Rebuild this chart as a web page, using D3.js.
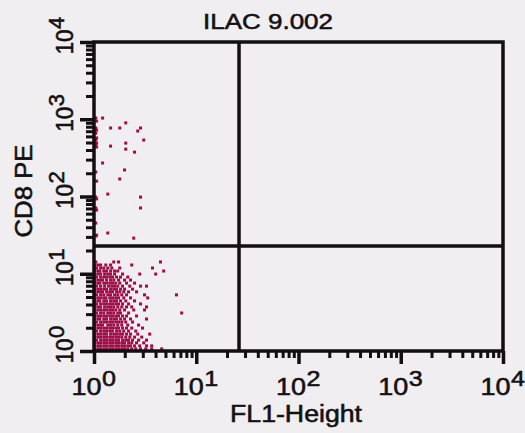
<!DOCTYPE html>
<html>
<head>
<meta charset="utf-8">
<script src="https://cdn.jsdelivr.net/npm/d3@7"></script>
<style>
  html, body { margin: 0; padding: 0; background: #f0eef0; }
  svg { display: block; }
  text { font-family: "Liberation Sans", Arial, Helvetica, sans-serif; fill: #141014;
         stroke: #141014; stroke-width: 0.55px; }
</style>
</head>
<body>
<svg id="chart" width="525" height="433"></svg>
<script>
// ---- chart text ----
const chartTitle = "ILAC 9.002";
const xTitle = "FL1-Height";
const yTitle = "CD8 PE";
const tickExponents = [0, 1, 2, 3, 4];

// ---- quadrant gate (linear fluorescence units) ----
const fl1Gate = 26.2;
const cd8Gate = 22.9;

// ---- events, recorded as log channels (256 channels per decade) ----
const channelsPerDecade = 256;

// dense CD8-negative population: one CD8 channel per row, FL1 channels of the events in that row
const coreCd8 = [7, 17, 27, 36, 46, 56, 66, 76, 86, 96, 106, 116, 126, 136, 146,
                 156, 166, 176, 186, 196, 205, 215, 225, 235, 245, 255, 265, 275, 285, 295];
const coreFl1 = [
  [0, 8, 15, 23, 30, 38, 45, 53, 60, 68, 75, 83, 93, 103, 115, 128, 143, 168],
  [0, 8, 15, 23, 30, 38, 45, 53, 60, 68, 75, 83, 90, 100, 113, 130, 143],
  [0, 8, 15, 23, 30, 38, 45, 53, 60, 68, 75, 85, 93, 105, 123],
  [0, 5, 15, 23, 30, 38, 45, 53, 60, 70, 78, 85, 95, 110, 130],
  [0, 8, 15, 23, 30, 38, 45, 53, 60, 68, 78, 88, 100, 118],
  [0, 8, 15, 23, 30, 40, 48, 55, 63, 70, 80, 90, 108, 138],
  [0, 5, 15, 23, 30, 38, 45, 55, 63, 73, 85, 103],
  [0, 8, 15, 23, 30, 38, 45, 53, 60, 70, 80, 93, 120],
  [0, 8, 15, 20, 33, 40, 48, 58, 68, 83, 110],
  [0, 5, 15, 23, 30, 38, 45, 53, 60, 68, 78, 95],
  [0, 8, 13, 23, 30, 40, 48, 55, 65, 75, 90, 130],
  [0, 8, 15, 23, 30, 38, 45, 53, 60, 70, 80, 105],
  [0, 5, 15, 23, 33, 40, 48, 58, 65, 85, 218],
  [0, 8, 15, 23, 30, 38, 45, 53, 63, 75, 98, 125],
  [0, 8, 15, 25, 33, 40, 48, 58, 68, 80, 93, 130],
  [0, 5, 15, 23, 30, 38, 45, 53, 60, 70, 85, 115],
  [0, 8, 13, 23, 30, 40, 48, 55, 65, 78, 100],
  [0, 8, 15, 23, 28, 38, 45, 53, 60, 73, 90, 133],
  [0, 5, 15, 23, 33, 40, 50, 58, 68, 80, 125, 205],
  [0, 8, 15, 20, 30, 38, 45, 55, 63, 73, 85, 105],
  [0, 8, 15, 23, 30, 40, 48, 55, 65, 75, 95],
  [0, 5, 15, 25, 35, 43, 50, 58, 70, 88, 115, 130],
  [0, 8, 13, 23, 30, 38, 45, 53, 63, 80, 100],
  [0, 8, 15, 20, 30, 40, 48, 60, 75, 90],
  [0, 5, 15, 23, 30, 38, 45, 55, 65, 83],
  [0, 8, 15, 25, 33, 40, 50, 70, 113, 153],
  [0, 8, 13, 23, 30, 40, 50, 58, 173],
  [0, 5, 15, 23, 33, 43, 63, 145],
  [0, 8, 15, 28, 40, 93],
  [3, 48, 60, 165]
];

// scattered CD8-positive events
const sparseFl1 = [3, 5, 3, 5, 3, 5, 3, 5, 3, 5, 3, 5, 3, 5, 3, 5, 3, 5, 3,
                   20, 40, 63, 78, 115, 108, 123, 40, 78, 78, 100, 20, 75, 63, 33, 115, 115, 33, 98];
const sparseCd8 = [772, 762, 739, 732, 722, 706, 699, 689, 683, 676, 593, 563, 510, 504, 474, 467, 424, 384, 381,
                   772, 739, 739, 756, 739, 729, 699, 679, 689, 669, 659, 623, 600, 570, 520, 510, 474, 391, 374];

// ---- build ----
const toValue = ch => Math.pow(10, ch / channelsPerDecade);

const events = [];
coreCd8.forEach((cy, i) => coreFl1[i].forEach(cx => events.push({ fl1: toValue(cx), cd8: toValue(cy) })));
sparseFl1.forEach((cx, i) => events.push({ fl1: toValue(cx), cd8: toValue(sparseCd8[i]) }));

const svg = d3.select("#chart");
const ink = "#120e12";
const dotColor = "#9e0c47";

const x = d3.scaleLog().domain([1, 1e4]).range([94, 503]);
const y = d3.scaleLog().domain([1, 1e4]).range([351, 42]);

const majors = tickExponents.map(e => Math.pow(10, e));
const minors = [];
for (let e = 0; e < 4; e++) for (let k = 2; k < 10; k++) minors.push(k * Math.pow(10, e));

// events
const dot = 3;
svg.append("g")
  .selectAll("rect")
  .data(events)
  .join("rect")
  .attr("x", d => x(d.fl1) - dot / 2 + 0.6)
  .attr("y", d => y(d.cd8) - dot / 2)
  .attr("width", dot)
  .attr("height", dot)
  .attr("fill", dotColor);

// axes: minor and major ticks
function styleAxis(g, width) {
  g.select(".domain").remove();
  g.selectAll(".tick line").attr("stroke", ink).attr("stroke-width", width);
  g.selectAll(".tick text").remove();
}
svg.append("g").attr("transform", "translate(0,351)")
  .call(d3.axisBottom(x).tickValues(minors).tickSize(7).tickFormat(""))
  .call(g => styleAxis(g, 3));
svg.append("g").attr("transform", "translate(0,351)")
  .call(d3.axisBottom(x).tickValues(majors).tickSize(13).tickFormat(""))
  .call(g => styleAxis(g, 3.5));
svg.append("g").attr("transform", "translate(94,0)")
  .call(d3.axisLeft(y).tickValues(minors).tickSize(8).tickFormat(""))
  .call(g => styleAxis(g, 3));
svg.append("g").attr("transform", "translate(94,0)")
  .call(d3.axisLeft(y).tickValues(majors).tickSize(14).tickFormat(""))
  .call(g => styleAxis(g, 3.5));

// plot frame
svg.append("rect")
  .attr("x", x(1)).attr("y", y(1e4))
  .attr("width", x(1e4) - x(1)).attr("height", y(1) - y(1e4))
  .attr("fill", "none").attr("stroke", ink).attr("stroke-width", 3.5);

// quadrant gate lines
svg.append("line")
  .attr("x1", x(fl1Gate)).attr("x2", x(fl1Gate))
  .attr("y1", y(1e4)).attr("y2", y(1))
  .attr("stroke", ink).attr("stroke-width", 3.5);
svg.append("line")
  .attr("x1", x(1)).attr("x2", x(1e4))
  .attr("y1", y(cd8Gate)).attr("y2", y(cd8Gate))
  .attr("stroke", ink).attr("stroke-width", 3.5);

// x tick labels: 10 with superscript exponent
tickExponents.forEach(e => {
  const tx = x(Math.pow(10, e));
  svg.append("text")
    .attr("x", tx - 22.5).attr("y", 395)
    .attr("font-size", 23)
    .attr("textLength", 30).attr("lengthAdjust", "spacingAndGlyphs")
    .text("10");
  svg.append("text")
    .attr("x", tx + 8).attr("y", 386)
    .attr("font-size", 22)
    .attr("textLength", 14).attr("lengthAdjust", "spacingAndGlyphs")
    .text(e);
});

// y tick labels, rotated
tickExponents.forEach(e => {
  const g = svg.append("g")
    .attr("transform", `translate(73,${y(Math.pow(10, e))}) rotate(-90)`);
  g.append("text")
    .attr("text-anchor", "middle")
    .attr("font-size", 24)
    .attr("textLength", 25).attr("lengthAdjust", "spacingAndGlyphs")
    .text("10");
  g.append("text")
    .attr("x", 13).attr("y", -9)
    .attr("font-size", 22)
    .text(e);
});

// titles
svg.append("text")
  .attr("x", 268).attr("y", 29)
  .attr("text-anchor", "middle")
  .attr("font-size", 22)
  .attr("textLength", 130).attr("lengthAdjust", "spacingAndGlyphs")
  .text(chartTitle);

svg.append("text")
  .attr("x", 296).attr("y", 422)
  .attr("text-anchor", "middle")
  .attr("font-size", 23)
  .attr("textLength", 132).attr("lengthAdjust", "spacingAndGlyphs")
  .text(xTitle);

svg.append("text")
  .attr("transform", "translate(32,191) rotate(-90)")
  .attr("text-anchor", "middle")
  .attr("font-size", 23)
  .attr("textLength", 93).attr("lengthAdjust", "spacingAndGlyphs")
  .text(yTitle);
</script>
</body>
</html>
